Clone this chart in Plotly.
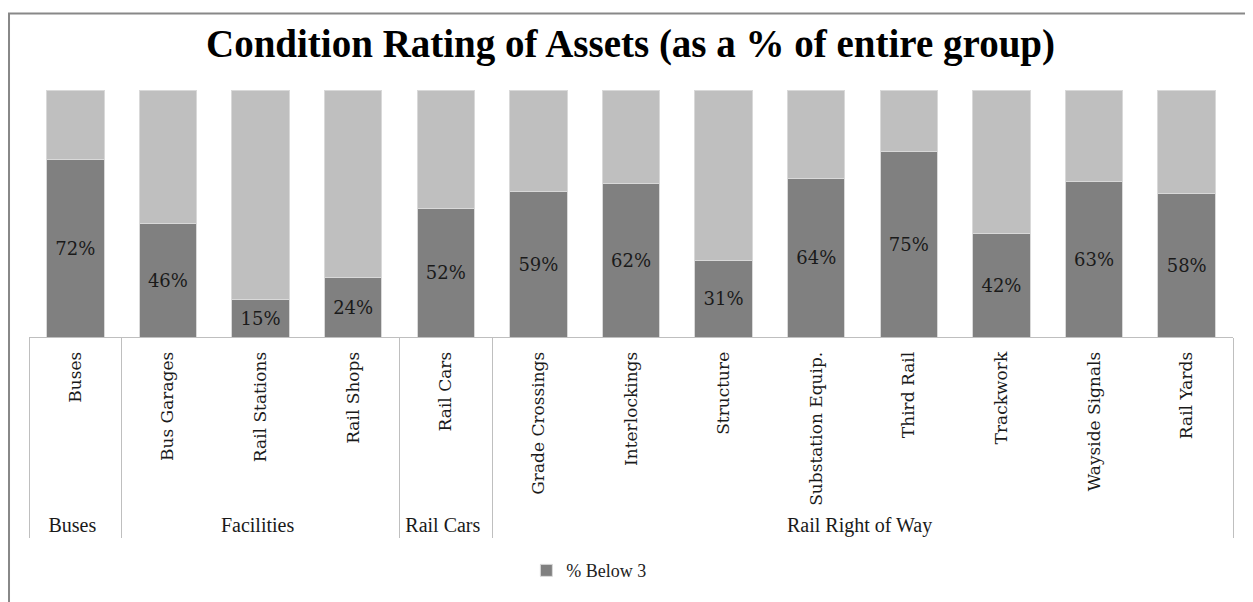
import plotly.graph_objects as go

groups = ["Buses", "Facilities", "Facilities", "Facilities", "Rail Cars",
          "Rail Right of Way", "Rail Right of Way", "Rail Right of Way", "Rail Right of Way",
          "Rail Right of Way", "Rail Right of Way", "Rail Right of Way", "Rail Right of Way"]
assets = ["Buses", "Bus Garages", "Rail Stations", "Rail Shops", "Rail Cars",
          "Grade Crossings", "Interlockings", "Structure", "Substation Equip.",
          "Third Rail", "Trackwork", "Wayside Signals", "Rail Yards"]
pct_below_3 = [72, 46, 15, 24, 52, 59, 62, 31, 64, 75, 42, 63, 58]
pct_rest = [28, 54, 85, 76, 48, 41, 38, 69, 36, 25, 58, 37, 42]

SERIF = "DejaVu Serif"
NARROW = "Liberation Serif"

# outer group labels use a narrower face than the rotated asset names
group_labels = [f"<span style='font-family:{NARROW};font-size:20px'>{g}</span>" for g in groups]

fig = go.Figure()
fig.add_trace(go.Bar(
    x=[group_labels, assets],
    y=pct_below_3,
    name="% Below 3",
    marker=dict(color="#808080", line=dict(color="#d9d9d9", width=1)),
    text=[f"{v}%" for v in pct_below_3],
    textposition="inside",
    insidetextanchor="middle",
    textfont=dict(family=SERIF, size=18, color="#1a1a1a"),
    textangle=0,
))
fig.add_trace(go.Bar(
    x=[group_labels, assets],
    y=pct_rest,
    name="% Above 3",
    showlegend=False,
    marker=dict(color="#bfbfbf", line=dict(color="#d9d9d9", width=1)),
))

fig.update_layout(
    barmode="stack",
    bargap=0.38,
    width=1245,
    height=594,
    paper_bgcolor="white",
    plot_bgcolor="white",
    margin=dict(l=21, r=20, t=82, b=263),
    title=dict(
        text="<b>Condition Rating of Assets (as a % of entire group)</b>",
        x=0.5, xanchor="center", y=0.94, yanchor="middle",
        font=dict(family=NARROW, size=39, color="black"),
    ),
    legend=dict(
        orientation="h", x=0.465, xanchor="center", y=-0.946, yanchor="middle",
        font=dict(family=NARROW, size=18, color="#222"),
    ),
    shapes=[
        # chart-area frame: only its left and top edges fall inside the page
        dict(type="rect", xref="paper", yref="paper", x0=-0.0166, x1=1.06, y0=-1.2, y1=1.31,
             line=dict(color="#888", width=2), fillcolor="rgba(0,0,0,0)", layer="below"),
    ],
)

fig.update_xaxes(
    type="multicategory",
    automargin=False,
    tickangle=-90,
    tickfont=dict(family=SERIF, size=17, color="#1a1a1a"),
    ticklabelstandoff=7,
    showline=True,
    linecolor="#bfbfbf",
    linewidth=1,
    showdividers=True,
    dividercolor="#bfbfbf",
    dividerwidth=1,
    ticks="",
    showgrid=False,
)
fig.update_yaxes(range=[0, 100], visible=False, automargin=False)

fig.write_html("out.html")
